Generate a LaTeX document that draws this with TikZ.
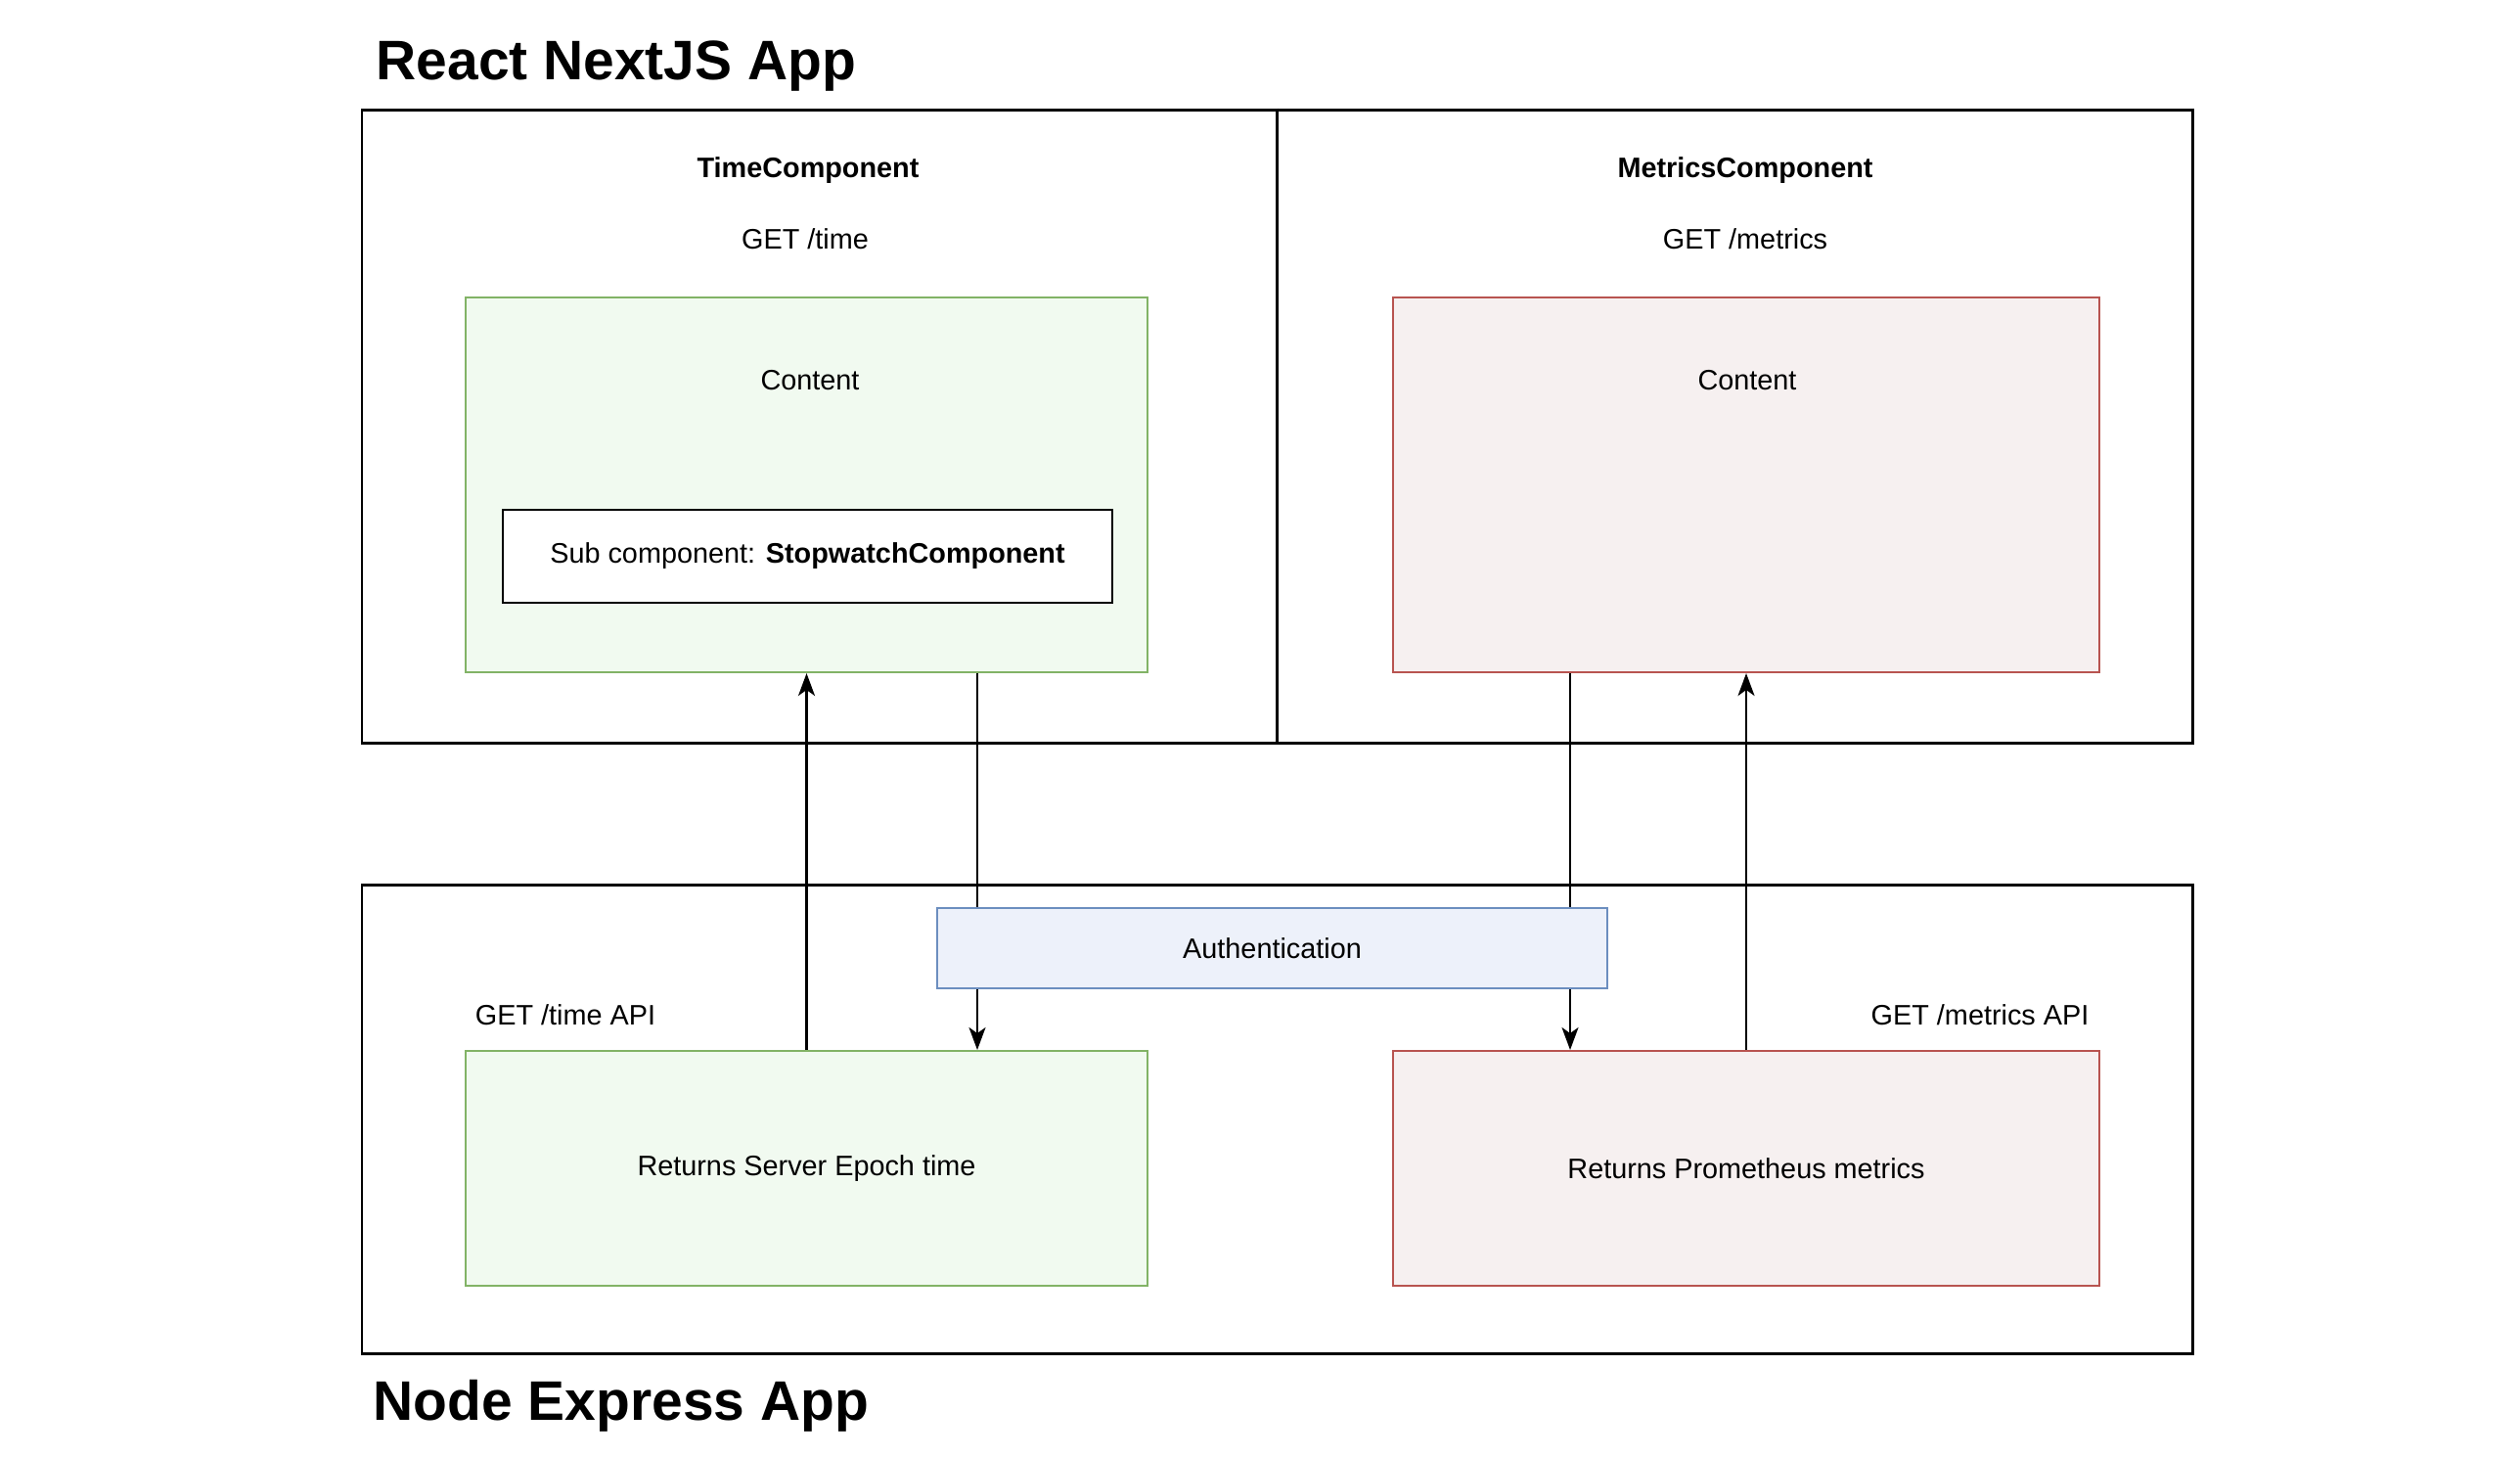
\documentclass[tikz,border=0pt]{standalone}
\usepackage{fontspec}
\setmainfont{Liberation Sans}
\usetikzlibrary{positioning,arrows.meta}
\definecolor{grfill}{HTML}{F1FAF0}
\definecolor{grline}{HTML}{82B366}
\definecolor{rdfill}{HTML}{F6F0F0}
\definecolor{rdline}{HTML}{B85450}
\definecolor{blfill}{HTML}{EDF1FA}
\definecolor{blline}{HTML}{6C8EBF}
\tikzset{
  txt/.style={inner sep=0pt, font=\fontsize{8.2}{10}\selectfont},
  bigtitle/.style={inner sep=0pt, anchor=west, font=\fontsize{16.2}{19}\selectfont\bfseries},
  app/.style={rectangle, draw=black, line width=0.85pt, inner sep=0pt, minimum width=18.71cm},
  gbox/.style={rectangle, draw=grline, fill=grfill, line width=0.6pt, inner sep=0pt, minimum width=6.97cm},
  rbox/.style={rectangle, draw=rdline, fill=rdfill, line width=0.6pt, inner sep=0pt, minimum width=7.22cm},
  conn/.style={line width=0.6pt, -{Stealth[length=0.23cm, width=0.17cm, inset=0.06cm]}},
}
\begin{document}
\begin{tikzpicture}
	\useasboundingbox (0,0) rectangle (25.76,-14.88);
	% frontend
	\node[bigtitle] (reacttitle) at (3.84,-0.68) {React NextJS App};
	\node[app, minimum height=6.47cm] (react) at (13.055,-4.355) {};
	\draw[line width=0.85pt] (react.north) -- (react.south);
	\node[txt, font=\fontsize{8.2}{10}\selectfont\bfseries] (timecomp) at (8.26,-1.74) {TimeComponent};
	\node[txt] (timeget) at (8.23,-2.44) {GET /time};
	\node[gbox, minimum height=3.83cm] (timebox) at (8.245,-4.955) {};
	\node[txt] (timecontent) at (8.28,-3.89) {Content};
	\node[rectangle, draw=black, line width=0.75pt, fill=white, inner sep=0pt, minimum width=6.23cm, minimum height=0.95cm, font=\fontsize{8.2}{10}\selectfont] (stopwatch) at (8.255,-5.685) {Sub component: \textbf{StopwatchComponent}};
	\node[txt, font=\fontsize{8.2}{10}\selectfont\bfseries] (metricscomp) at (17.84,-1.74) {MetricsComponent};
	\node[txt] (metricsget) at (17.84,-2.44) {GET /metrics};
	\node[rbox, minimum height=3.83cm] (metricsbox) at (17.85,-4.955) {};
	\node[txt] (metricscontent) at (17.86,-3.89) {Content};
	% backend
	\node[app, minimum height=4.79cm] (express) at (13.055,-11.435) {};
	\node[bigtitle] (expresstitle) at (3.81,-14.37) {Node Express App};
	\node[rectangle, draw=blline, fill=blfill, line width=0.6pt, inner sep=0pt, minimum width=6.85cm, minimum height=0.82cm, font=\fontsize{8.2}{10}\selectfont] (auth) at (13.005,-9.69) {Authentication};
	\node[txt] (timeapi) at (5.78,-10.37) {GET /time API};
	\node[txt] (metricsapi) at (20.24,-10.37) {GET /metrics API};
	\node[gbox, minimum height=2.4cm, font=\fontsize{8.2}{10}\selectfont] (epoch) at (8.245,-11.94) {Returns Server Epoch time};
	\node[rbox, minimum height=2.4cm, font=\fontsize{8.2}{10}\selectfont] (prom) at (17.85,-11.94) {Returns Prometheus metrics};
	%
	\coordinate (tdown) at (9.99,0);
	\coordinate (mdown) at (16.05,0);
	\draw[conn] (epoch.north) -- (timebox.south);
	\draw[line width=0.6pt] (timebox.south -| tdown) -- (auth.north -| tdown);
	\draw[conn] (auth.south -| tdown) -- (epoch.north -| tdown);
	\draw[line width=0.6pt] (metricsbox.south -| mdown) -- (auth.north -| mdown);
	\draw[conn] (auth.south -| mdown) -- (prom.north -| mdown);
	\draw[conn] (prom.north) -- (metricsbox.south);
\end{tikzpicture}
\end{document}
